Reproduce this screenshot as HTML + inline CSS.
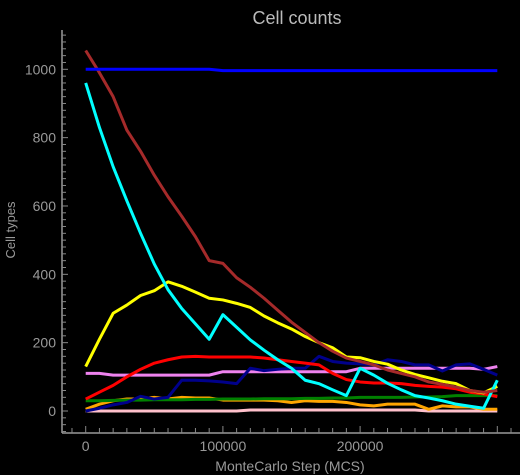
<!DOCTYPE html>
<html><head><meta charset="utf-8"><style>
html,body{margin:0;padding:0;background:#000;}
svg{display:block;font-family:"Liberation Sans",sans-serif;}
</style></head><body>
<svg id="chart" width="520" height="475">
<rect width="520" height="475" fill="#000"/>
<text x="297" y="24" text-anchor="middle" font-size="18" fill="#bbb">Cell counts</text>
<text x="290" y="471" text-anchor="middle" font-size="14" fill="#999">MonteCarlo Step (MCS)</text>
<text transform="translate(15,230) rotate(-90)" text-anchor="middle" font-size="13" fill="#999">Cell types</text>
<g id="axes"></g><g id="series"></g>
</svg>
<script>
const steps=[0,10000,20000,30000,40000,50000,60000,70000,80000,90000,100000,110000,120000,130000,140000,150000,160000,170000,180000,190000,200000,210000,220000,230000,240000,250000,260000,270000,280000,290000,300000];
const xTicks=[0,100000,200000];
const yTicks=[0,200,400,600,800,1000];
const blueVals=[1000,1000,1000,1000,1000,1000,1000,1000,1000,1000,996,996,996,996,996,996,996,996,996,996,996,996,996,996,996,996,996,996,996,996,996];
const brownVals=[1055,990,920,822,760,690,627,570,510,440,432,390,362,330,295,260,230,200,175,155,145,135,120,110,100,85,78,70,60,55,60];
const cyanVals=[960,830,715,615,520,430,355,300,255,210,282,245,208,178,150,125,90,80,62,45,125,105,81,62,45,38,30,20,14,8,90];
const yellowVals=[130,210,286,310,338,352,378,365,348,330,325,315,303,278,258,240,218,200,185,158,156,145,137,120,107,97,87,80,60,53,72];
const redVals=[35,55,75,100,122,140,150,158,160,158,158,158,158,155,150,145,140,135,110,92,85,82,82,80,75,72,70,65,55,50,42];
const violetVals=[110,110,105,105,105,105,105,105,105,105,115,115,115,115,115,115,115,115,115,115,125,125,125,125,125,125,125,125,125,122,130];
const navyVals=[0,8,18,25,43,35,40,90,90,88,85,80,125,118,122,125,125,160,145,140,138,135,150,145,135,135,117,135,138,122,105];
const orangeVals=[5,20,30,35,35,40,35,40,38,38,32,32,32,32,30,25,30,28,28,25,18,15,20,20,20,5,15,12,12,5,5];
const greenVals=[30,30,31,32,32,33,33,33,34,34,35,35,35,36,36,36,37,37,38,38,40,40,40,40,41,41,42,45,45,45,45];
const pinkVals=[0,0,0,0,0,0,0,0,0,0,0,0,3,3,3,3,3,3,3,3,3,3,3,3,3,0,0,0,0,0,0];
const seriesList=[
 ['pink-series',pinkVals,'#ffc0cb'],['orange-series',orangeVals,'#ffa500'],['green-series',greenVals,'#008000'],
 ['violet-series',violetVals,'#ee82ee'],['navy-series',navyVals,'#00008b'],['red-series',redVals,'#ff0000'],
 ['yellow-series',yellowVals,'#ffff00'],['cyan-series',cyanVals,'#00ffff'],['brown-series',brownVals,'#a52a2a'],['blue-series',blueVals,'#0000ff']];
const NS='http://www.w3.org/2000/svg';
const X=v=>85.7+v*0.001372;
const Y=v=>411-v*0.3417;
const axes=document.getElementById('axes');
function mk(tag,attrs,parent){const e=document.createElementNS(NS,tag);for(const k in attrs)e.setAttribute(k,attrs[k]);parent.appendChild(e);return e;}
let l=mk('line',{x1:62,y1:30,x2:62,y2:433,stroke:'#999','stroke-width':1.5},axes);


l=mk('line',{x1:62,y1:433,x2:520,y2:433,stroke:'#999','stroke-width':1.5},axes);


for(let v=-60;v<=1100;v+=20){const y=Y(v);if(y<32||y>432)continue;const maj=v%200===0;
 const t=mk('line',{x1:62,y1:y,x2:maj?68:66,y2:y,stroke:'#888','stroke-width':1},axes);
 
 }
yTicks.forEach(v=>{const t=mk('text',{x:56,y:Y(v)+5,'text-anchor':'end','font-size':14,fill:'#999'},axes);t.textContent=v;
 
 });
for(let v=-10000;v<=320000;v+=10000){const x=X(v);if(x<63||x>519)continue;const maj=v%100000===0;
 const t=mk('line',{x1:x,y1:433,x2:x,y2:maj?426:428,stroke:'#888','stroke-width':1},axes);
 
 }
xTicks.forEach(v=>{const t=mk('text',{x:X(v),y:451,'text-anchor':'middle','font-size':14,fill:'#999'},axes);t.textContent=v;
 
 });
const sg=document.getElementById('series');
seriesList.forEach(([name,vals,col])=>{
 const p=mk('polyline',{points:vals.map((v,i)=>X(steps[i])+','+Y(v)).join(' '),fill:'none',stroke:col,'stroke-width':3,'stroke-linejoin':'round'},sg);
 
 
});
</script>
</body></html>
